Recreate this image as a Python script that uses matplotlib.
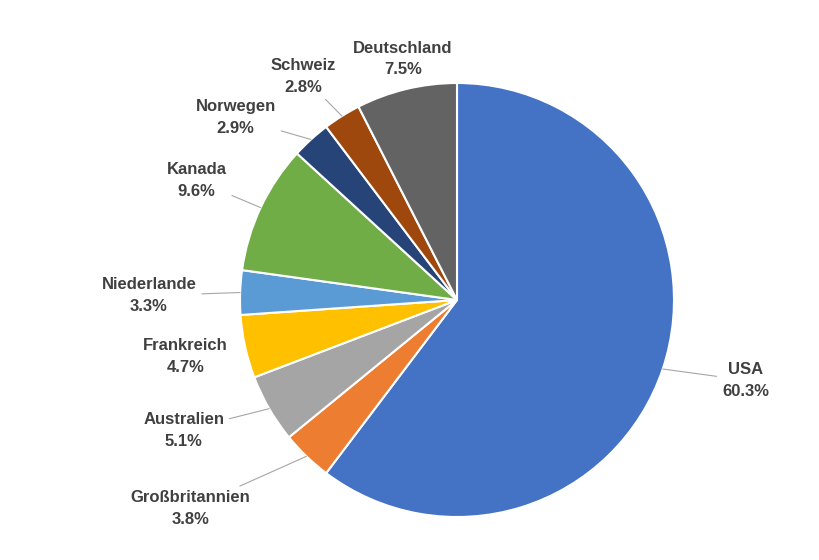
import matplotlib
matplotlib.use("Agg")
import matplotlib.pyplot as plt
import numpy as np

labels = ["USA", "Großbritannien", "Australien", "Frankreich", "Niederlande",
          "Kanada", "Norwegen", "Schweiz", "Deutschland"]
values = [60.3, 3.8, 5.1, 4.7, 3.3, 9.6, 2.9, 2.8, 7.5]
colors = ["#4472C4", "#ED7D31", "#A5A5A5", "#FFC000", "#5B9BD5",
          "#70AD47", "#264478", "#9E480E", "#636363"]
label_pos = [(1.33, -0.37), (-1.23, -0.96), (-1.26, -0.60), (-1.25, -0.26),
             (-1.42, 0.02), (-1.20, 0.55), (-1.02, 0.84), (-0.71, 1.03), (-0.25, 1.11)]
leader = [True, True, True, False, True, True, True, True, False]

plt.rcParams['font.family'] = ['Liberation Sans', 'DejaVu Sans']
fig = plt.figure(figsize=(8.19, 5.6), dpi=100)
ax = fig.add_axes([(457 - 217) / 819, 43 / 560, 434 / 819, 434 / 560])
wedges, _ = ax.pie(values, colors=colors, startangle=90, counterclock=False,
                   radius=1, wedgeprops=dict(edgecolor="white", linewidth=1.5))
ax.set_xlim(-1, 1); ax.set_ylim(-1, 1)
ax.set_aspect('auto')
ax.axis('off')

for w, lab, v, pos, ld in zip(wedges, labels, values, label_pos, leader):
    ang = np.deg2rad((w.theta1 + w.theta2) / 2)
    edge = (np.cos(ang), np.sin(ang))
    txt = f"{lab}\n{v:.1f}%"
    if ld:
        ax.annotate(txt, xy=edge, xytext=pos, ha='center', va='center',
                    fontsize=12, fontweight='bold', color='#404040',
                    annotation_clip=False, linespacing=1.55,
                    arrowprops=dict(arrowstyle='-', color='#A6A6A6', lw=0.8,
                                    shrinkA=2, shrinkB=0))
    else:
        ax.text(pos[0], pos[1], txt, ha='center', va='center', fontsize=12,
                fontweight='bold', color='#404040', linespacing=1.55, clip_on=False)

fig.savefig("out.png", dpi=100, facecolor="white")
